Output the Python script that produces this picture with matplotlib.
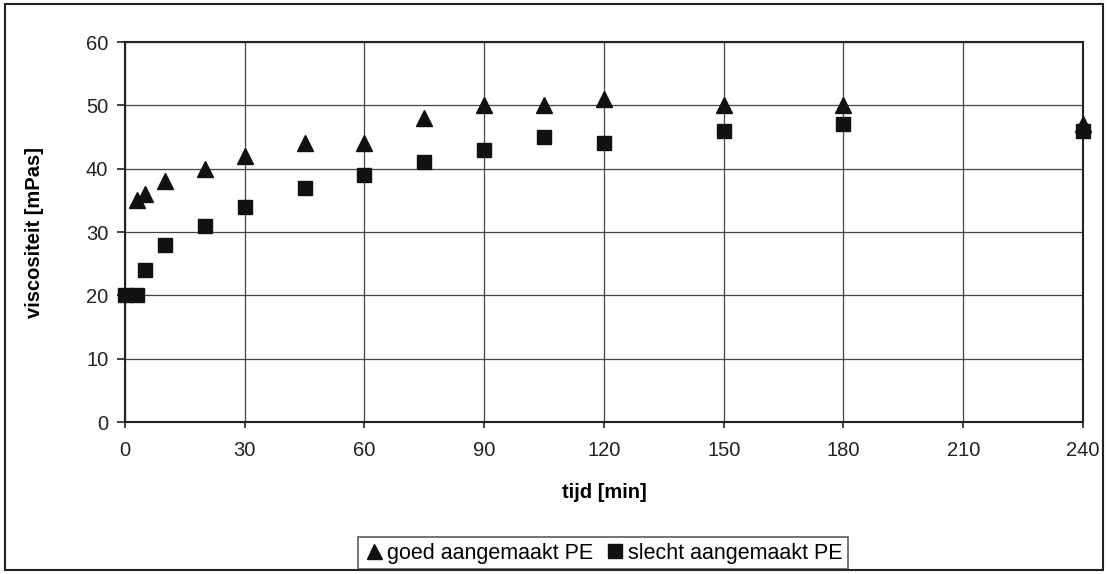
import matplotlib
matplotlib.use("Agg")
import matplotlib.pyplot as plt
from matplotlib.patches import Rectangle

plt.rcParams['font.family'] = ['Liberation Sans', 'DejaVu Sans']

tijd_goed = [3, 5, 10, 20, 30, 45, 60, 75, 90, 105, 120, 150, 180, 240]
visc_goed = [35, 36, 38, 40, 42, 44, 44, 48, 50, 50, 51, 50, 50, 47]
tijd_slecht = [0, 3, 5, 10, 20, 30, 45, 60, 75, 90, 105, 120, 150, 180, 240]
visc_slecht = [20, 20, 24, 28, 31, 34, 37, 39, 41, 43, 45, 44, 46, 47, 46]
xticks = list(range(0, 241, 30))
yticks = list(range(0, 61, 10))

fig = plt.figure(figsize=(11.07, 5.74), dpi=100)
ax = fig.add_axes([0.1129, 0.2648, 0.9783 - 0.1129, 0.9268 - 0.2648])

ax.plot(tijd_goed, visc_goed, linestyle='none', marker='^', markersize=12,
        color='#111111', label='goed aangemaakt PE', clip_on=False, zorder=3)
ax.plot(tijd_slecht, visc_slecht, linestyle='none', marker='s', markersize=10.5,
        color='#111111', label='slecht aangemaakt PE', clip_on=False, zorder=4)

ax.set_xlim(0, 240)
ax.set_ylim(0, 60)
ax.set_xticks(xticks)
ax.set_yticks(yticks)
ax.grid(True, color='#444444', linewidth=0.9)
ax.set_axisbelow(True)
for s in ax.spines.values():
    s.set_color('#222222')
    s.set_linewidth(1.5)
ax.tick_params(axis='both', direction='out', length=6, width=1.2, labelsize=14.5,
               colors='#222222', labelcolor='#222222', pad=6)
ax.tick_params(axis='x', length=4, pad=10)
ax.set_xlabel('tijd [min]', fontsize=14.5, fontweight='bold', labelpad=16)
ax.set_ylabel('viscositeit [mPas]', fontsize=14.5, fontweight='bold', labelpad=30)

leg = fig.legend(loc='center', bbox_to_anchor=(603 / 1107, 1 - 553 / 574), ncol=2,
                 frameon=True, fancybox=False, edgecolor='#333333', fontsize=15.5,
                 handletextpad=0.1, columnspacing=0.5, handlelength=1.0,
                 borderpad=0.25, markerscale=0.9)
leg.get_frame().set_linewidth(1.2)

fig.patches.append(Rectangle((5 / 1107, 4 / 574), 1098 / 1107, 566 / 574,
                             transform=fig.transFigure, fill=False,
                             edgecolor='#222222', linewidth=1.5))

fig.savefig('out.png', dpi=100)
